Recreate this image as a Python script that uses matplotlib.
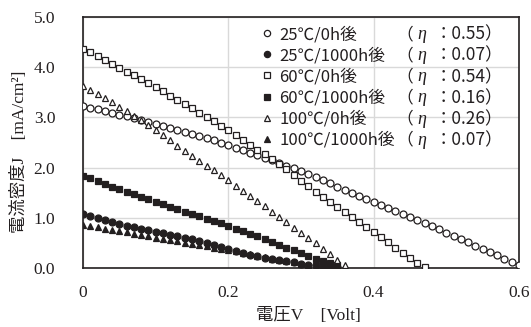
import matplotlib
matplotlib.use("Agg")
import matplotlib.pyplot as plt
from matplotlib.lines import Line2D

# voltage steps shared by every series (each series uses as many as it has values)
volt = [0.00, 0.01, 0.02, 0.03, 0.04, 0.05, 0.06, 0.07, 0.08, 0.09,
        0.10, 0.11, 0.12, 0.13, 0.14, 0.15, 0.16, 0.17, 0.18, 0.19,
        0.20, 0.21, 0.22, 0.23, 0.24, 0.25, 0.26, 0.27, 0.28, 0.29,
        0.30, 0.31, 0.32, 0.33, 0.34, 0.35, 0.36, 0.37, 0.38, 0.39,
        0.40, 0.41, 0.42, 0.43, 0.44, 0.45, 0.46, 0.47, 0.48, 0.49,
        0.50, 0.51, 0.52, 0.53, 0.54, 0.55, 0.56, 0.57, 0.58, 0.59, 0.60]

j25_0 = [3.22, 3.19, 3.16, 3.12, 3.09, 3.05, 3.02, 2.98, 2.94, 2.90,
         2.86, 2.82, 2.78, 2.74, 2.70, 2.66, 2.62, 2.58, 2.54, 2.49,
         2.45, 2.40, 2.35, 2.30, 2.25, 2.20, 2.15, 2.10, 2.04, 1.99,
         1.93, 1.87, 1.81, 1.75, 1.69, 1.62, 1.56, 1.50, 1.44, 1.38,
         1.32, 1.26, 1.20, 1.14, 1.08, 1.02, 0.96, 0.89, 0.83, 0.77,
         0.70, 0.64, 0.57, 0.51, 0.44, 0.38, 0.31, 0.25, 0.18, 0.12, 0.05]
j25_1000 = [1.08, 1.03, 0.99, 0.95, 0.91, 0.88, 0.84, 0.81, 0.78, 0.75,
            0.72, 0.69, 0.66, 0.63, 0.60, 0.57, 0.54, 0.50, 0.46, 0.42,
            0.38, 0.33, 0.29, 0.26, 0.23, 0.20, 0.18, 0.16, 0.13, 0.11,
            0.08, 0.06, 0.05, 0.04, 0.03, 0.02]
j60_0 = [4.36, 4.30, 4.23, 4.15, 4.07, 3.99, 3.91, 3.84, 3.76, 3.68,
         3.60, 3.52, 3.43, 3.35, 3.26, 3.18, 3.09, 3.01, 2.92, 2.83,
         2.74, 2.65, 2.55, 2.46, 2.36, 2.27, 2.17, 2.08, 1.98, 1.86,
         1.74, 1.63, 1.52, 1.42, 1.32, 1.22, 1.12, 1.02, 0.92, 0.82,
         0.72, 0.62, 0.51, 0.40, 0.30, 0.19, 0.09, 0.02]
j60_1000 = [1.84, 1.79, 1.73, 1.68, 1.62, 1.57, 1.52, 1.47, 1.42, 1.37,
            1.32, 1.28, 1.22, 1.17, 1.12, 1.08, 1.03, 0.98, 0.93, 0.89,
            0.84, 0.78, 0.73, 0.68, 0.63, 0.58, 0.52, 0.46, 0.40, 0.35,
            0.29, 0.24, 0.18, 0.14, 0.10, 0.05]
j100_0 = [3.62, 3.54, 3.47, 3.38, 3.30, 3.21, 3.12, 3.03, 2.94, 2.84,
          2.74, 2.64, 2.54, 2.44, 2.34, 2.24, 2.14, 2.04, 1.95, 1.86,
          1.76, 1.64, 1.54, 1.44, 1.33, 1.23, 1.12, 1.02, 0.91, 0.80,
          0.70, 0.60, 0.49, 0.38, 0.27, 0.16, 0.06]
j100_1000 = [0.86, 0.84, 0.81, 0.78, 0.76, 0.73, 0.71, 0.68, 0.66, 0.63,
             0.60, 0.58, 0.55, 0.53, 0.50, 0.48, 0.45, 0.43, 0.40, 0.38,
             0.36, 0.33, 0.30, 0.27, 0.24, 0.21, 0.18, 0.16, 0.13, 0.11,
             0.08, 0.06, 0.04, 0.03, 0.02, 0.01]

labels = ["25℃/0h後", "25℃/1000h後", "60℃/0h後", "60℃/1000h後", "100℃/0h後", "100℃/1000h後"]
etas = ["0.55", "0.07", "0.54", "0.16", "0.26", "0.07"]
series = [j25_0, j25_1000, j60_0, j60_1000, j100_0, j100_1000]
markers = ["o", "o", "s", "s", "^", "^"]
filled = [False, True, False, True, False, True]

ink = "#231f20"
serif_cjk = ["Liberation Serif", "Noto Sans CJK JP"]

W, H = 531, 327
fig = plt.figure(figsize=(W / 100, H / 100), dpi=100)
ax = fig.add_axes([83 / W, 1 - 268 / H, 436 / W, 251 / H])

handles = []
for j, m, f, lab in zip(series, markers, filled, labels):
    ax.plot(volt[:len(j)], j, linestyle="none", marker=m, markersize=5,
            markeredgewidth=0.9, markeredgecolor=ink,
            markerfacecolor=ink if f else "white", zorder=3)
    handles.append(Line2D([], [], linestyle="none", marker=m, markersize=4.5,
                          markeredgewidth=0.9, markeredgecolor=ink,
                          markerfacecolor=ink if f else "white"))

ax.set_xlim(0, 0.6)
ax.set_ylim(0, 5)
ax.set_xticks([0, 0.2, 0.4, 0.6])
ax.set_xticklabels(["0", "0.2", "0.4", "0.6"])
ax.set_yticks([0, 1, 2, 3, 4, 5])
ax.set_yticklabels(["0.0", "1.0", "2.0", "3.0", "4.0", "5.0"])
ax.tick_params(length=0, labelsize=12.5, colors=ink)
ax.tick_params(axis="x", pad=12)
ax.tick_params(axis="y", pad=20)
for t in ax.get_xticklabels() + ax.get_yticklabels():
    t.set_family("Liberation Serif")
ax.grid(True, color="#d9d9d9", linewidth=1)
ax.set_axisbelow(True)
for s in ax.spines.values():
    s.set_color(ink)
    s.set_linewidth(1.2)

fig.text(308 / W, 1 - 316 / H, "電圧V　[Volt]", family=serif_cjk,
         fontsize=12.5, ha="center", va="center", color=ink)
fig.text(20 / W, 1 - 152 / H, "電流密度J　[mA/cm²]", family=serif_cjk,
         fontsize=12.5, ha="center", va="center", rotation=90, color=ink)

leg = ax.legend(handles, labels, loc="upper left",
                bbox_to_anchor=((262 - 83) / 436, (268 - 26) / 251),
                frameon=False, borderaxespad=0, borderpad=0,
                handlelength=0.6, handletextpad=0.45, labelspacing=0.25,
                prop={"family": "Noto Sans CJK JP", "size": 12})
for t in leg.get_texts():
    t.set_color(ink)

fig.canvas.draw()
inv = fig.transFigure.inverted()
for t, e in zip(leg.get_texts(), etas):
    bb = t.get_window_extent()
    yc = inv.transform((0, (bb.y0 + bb.y1) / 2))[1]
    fig.text(396 / W, yc, "（", family="Noto Sans CJK JP", fontsize=12,
             ha="left", va="center", color=ink)
    fig.text(417 / W, yc, "η", family="Liberation Serif", style="italic",
             fontsize=13, ha="left", va="center", color=ink)
    fig.text(435 / W, yc, "：" + e + "）", family="Noto Sans CJK JP", fontsize=12.5,
             ha="left", va="center", color=ink)

fig.savefig("out.png", dpi=100)
